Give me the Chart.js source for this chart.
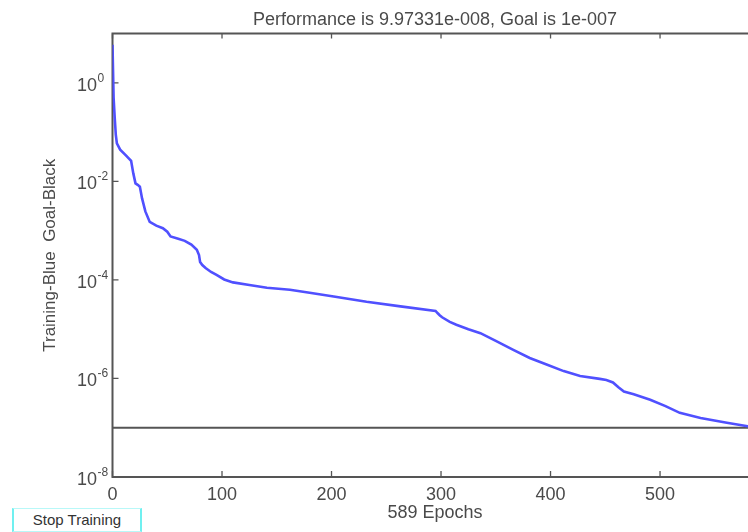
<!DOCTYPE html>
<html><head><meta charset="utf-8">
<script src="https://cdn.jsdelivr.net/npm/chart.js@4"></script>
<style>
html,body{margin:0;padding:0;background:#fff;overflow:hidden;width:748px;height:532px;}
#wrap{position:relative;width:780px;height:532px;}
#c{position:absolute;left:0;top:0;}
#btn{position:absolute;left:12px;top:508px;width:126px;height:22px;border-left:2px solid #70f0f0;border-right:2px solid #70f0f0;border-top:1px solid #b8f8f8;border-bottom:1px solid #b8f8f8;font:15px "Liberation Sans",Arial,sans-serif;color:#333;text-align:center;line-height:22px;background:#fff;}
</style></head><body>
<div id="wrap"><canvas id="c" width="780" height="532"></canvas><div id="btn">Stop Training</div></div>
<script>
// ---- data ----
const epochs = [0,1,2,3,4,7,12,17,19,21,23,25,27,30,34,40,46,50,53,60,66,72,77,79,80,82,85,90,95,102,110,125,141,162,180,202,232,263,295,297,299,301,308,314,325,336,350,366,381,397,412,427,445,451,457,462,467,476,491,505,518,537,561,580,589];
const performance = [5.9,0.5,0.2,0.089,0.059,0.044,0.034,0.026,0.0145,0.0091,0.0085,0.0078,0.0045,0.00245,0.0015,0.00126,0.00112,9.5e-4,7.6e-4,6.8e-4,6.2e-4,5.2e-4,4.1e-4,3.2e-4,2.3e-4,2.0e-4,1.74e-4,1.45e-4,1.26e-4,1.02e-4,8.9e-5,7.9e-5,6.9e-5,6.3e-5,5.5e-5,4.6e-5,3.6e-5,2.9e-5,2.35e-5,2.1e-5,1.9e-5,1.74e-5,1.41e-5,1.23e-5,1.0e-5,8.3e-6,5.8e-6,3.8e-6,2.6e-6,1.9e-6,1.41e-6,1.12e-6,9.8e-7,9.3e-7,8.3e-7,6.6e-7,5.4e-7,4.8e-7,3.7e-7,2.75e-7,2.0e-7,1.58e-7,1.26e-7,1.07e-7,9.97331e-8];
const goalEpochs = [0,589];
const goalValues = [1e-7,1e-7];
const yTickExps = [0,-2,-4,-6,-8];
const xTickStep = 100;
const titleText = 'Performance is 9.97331e-008, Goal is 1e-007';
const xLabel = '589 Epochs';
const yLabel = 'Training-Blue  Goal-Black';

const FONT = '"Liberation Sans", Arial, sans-serif';
const AX = '#555555', TXT = '#4a4a4a';

const framePlugin = {
  id: 'frame',
  beforeDatasetsDraw(chart) {
    const {ctx, chartArea: a, scales: {x, y}} = chart;
    ctx.save();
    ctx.strokeStyle = AX; ctx.lineWidth = 2;
    ctx.beginPath(); ctx.rect(a.left, a.top, a.right - a.left, a.bottom - a.top); ctx.stroke();
    ctx.lineWidth = 1.3;
    ctx.beginPath();
    x.ticks.forEach(t => {
      const px = x.getPixelForValue(t.value);
      ctx.moveTo(px, a.bottom); ctx.lineTo(px, a.bottom - 6);
      ctx.moveTo(px, a.top); ctx.lineTo(px, a.top + 5);
    });
    yTickExps.forEach(e => {
      const py = y.getPixelForValue(Math.pow(10, e));
      ctx.moveTo(a.left, py); ctx.lineTo(a.left + 6, py);
      ctx.moveTo(a.right, py); ctx.lineTo(a.right - 6, py);
    });
    ctx.stroke();
    ctx.restore();
  },
  afterDraw(chart) {
    const {ctx, chartArea: a, scales: {y}} = chart;
    ctx.save();
    ctx.fillStyle = TXT;
    ctx.font = '18px ' + FONT;
    ctx.textAlign = 'center'; ctx.textBaseline = 'alphabetic';
    ctx.fillText(titleText, (a.left + a.right) / 2, 25);
    yTickExps.forEach(e => {
      const py = y.getPixelForValue(Math.pow(10, e));
      ctx.font = '18px ' + FONT;
      ctx.textAlign = 'right';
      ctx.fillText('10', 97, py + 8);
      ctx.font = '12px ' + FONT;
      ctx.textAlign = 'left';
      ctx.fillText(String(e), 97.5, py - 1);
    });
    ctx.restore();
  }
};

new Chart(document.getElementById('c'), {
  type: 'line',
  data: {
    datasets: [
      {
        label: 'Training',
        data: epochs.map((e, i) => ({x: e, y: performance[i]})),
        borderColor: 'rgb(80,80,255)', borderWidth: 2.6,
        pointRadius: 0, tension: 0, fill: false, order: 0
      },
      {
        label: 'Goal',
        data: goalEpochs.map((e, i) => ({x: e, y: goalValues[i]})),
        borderColor: '#555555', borderWidth: 2,
        pointRadius: 0, tension: 0, fill: false, order: 1
      }
    ]
  },
  options: {
    responsive: false, animation: false, events: [],
    layout: {padding: {left: 0, top: 33.5, right: 22.5, bottom: 0}},
    plugins: {legend: {display: false}, tooltip: {enabled: false}, title: {display: false}},
    scales: {
      x: {
        type: 'linear', min: 0, max: 589,
        grid: {display: false, drawTicks: false}, border: {display: false},
        ticks: {stepSize: xTickStep, includeBounds: false, autoSkip: false, maxRotation: 0,
                color: TXT, font: {family: FONT, size: 18}, padding: 7},
        title: {display: true, text: xLabel, color: TXT, font: {family: FONT, size: 18},
                padding: {top: 0, bottom: 8}},
        afterFit(s) { s.height = 55; }
      },
      y: {
        type: 'logarithmic', min: 1e-8, max: 10,
        grid: {display: false, drawTicks: false}, border: {display: false},
        ticks: {display: false},
        title: {display: true, text: yLabel, color: TXT, font: {family: FONT, size: 17},
                padding: {top: 40, bottom: 0}},
        afterFit(s) { s.width = 112.5; }
      }
    }
  },
  plugins: [framePlugin]
});
</script>
</body></html>
